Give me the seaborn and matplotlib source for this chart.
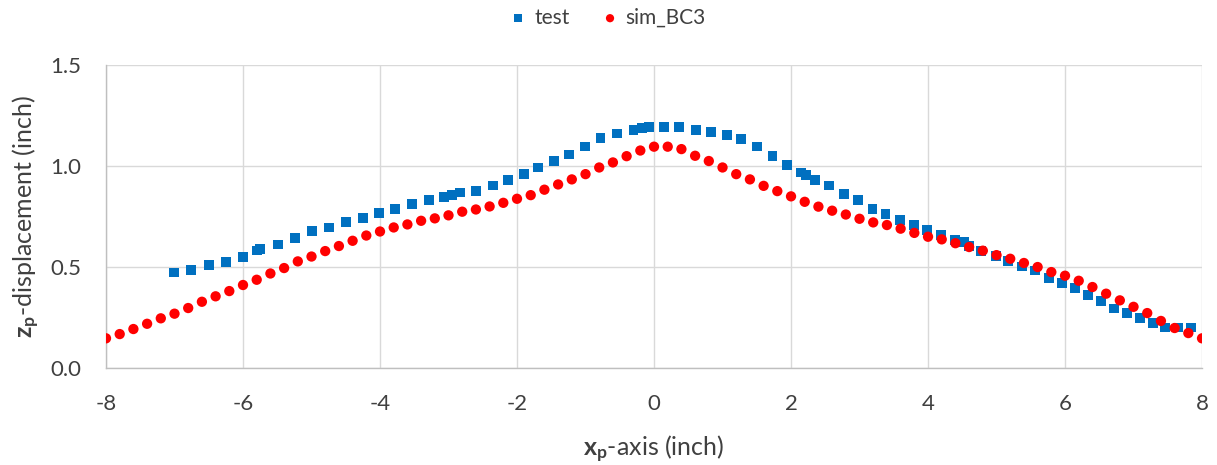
import matplotlib
matplotlib.use("Agg")
import matplotlib.pyplot as plt
import seaborn as sns
import pandas as pd

# ---- data ----
test_x = [-7.01, -6.76, -6.50, -6.25, -6.00, -5.80, -5.75, -5.49, -5.24, -4.99,
          -4.75, -4.50, -4.25, -4.01, -3.78, -3.53, -3.28, -3.06, -2.95, -2.83,
          -2.60, -2.35, -2.13, -1.90, -1.69, -1.46, -1.24, -1.01, -0.78, -0.54,
          -0.30, -0.18, -0.07, 0.15, 0.37, 0.61, 0.83, 1.06, 1.27, 1.50,
          1.73, 1.94, 2.15, 2.22, 2.35, 2.56, 2.77, 2.98, 3.19, 3.38,
          3.59, 3.80, 3.98, 4.19, 4.39, 4.52, 4.60, 4.77, 4.99, 5.17,
          5.37, 5.56, 5.77, 5.96, 6.15, 6.34, 6.53, 6.72, 6.91, 7.09,
          7.29, 7.46, 7.65, 7.84]
test_y = [0.473, 0.485, 0.510, 0.525, 0.549, 0.582, 0.589, 0.612, 0.645, 0.678,
          0.696, 0.723, 0.743, 0.767, 0.786, 0.813, 0.832, 0.845, 0.858, 0.869,
          0.878, 0.904, 0.929, 0.962, 0.993, 1.026, 1.057, 1.097, 1.137, 1.161,
          1.180, 1.188, 1.193, 1.193, 1.193, 1.180, 1.168, 1.155, 1.135, 1.097,
          1.051, 1.006, 0.968, 0.955, 0.929, 0.904, 0.863, 0.832, 0.787, 0.762,
          0.734, 0.710, 0.685, 0.659, 0.635, 0.622, 0.605, 0.581, 0.556, 0.531,
          0.503, 0.483, 0.446, 0.421, 0.396, 0.361, 0.330, 0.295, 0.272, 0.246,
          0.221, 0.201, 0.201, 0.201]

sim_x = [-8.0, -7.8, -7.6, -7.4, -7.2, -7.0, -6.8, -6.6, -6.4, -6.2,
         -6.0, -5.8, -5.6, -5.4, -5.2, -5.0, -4.8, -4.6, -4.4, -4.2,
         -4.0, -3.8, -3.6, -3.4, -3.2, -3.0, -2.8, -2.6, -2.4, -2.2,
         -2.0, -1.8, -1.6, -1.4, -1.2, -1.0, -0.8, -0.6, -0.4, -0.2,
         0.0, 0.2, 0.4, 0.6, 0.8, 1.0, 1.2, 1.4, 1.6, 1.8,
         2.0, 2.2, 2.4, 2.6, 2.8, 3.0, 3.2, 3.4, 3.6, 3.8,
         4.0, 4.2, 4.4, 4.6, 4.8, 5.0, 5.2, 5.4, 5.6, 5.8,
         6.0, 6.2, 6.4, 6.6, 6.8, 7.0, 7.2, 7.4, 7.6, 7.8, 8.0]
sim_y = [0.147, 0.168, 0.193, 0.219, 0.246, 0.269, 0.297, 0.328, 0.355, 0.381,
         0.411, 0.437, 0.468, 0.495, 0.528, 0.552, 0.579, 0.604, 0.630, 0.656,
         0.676, 0.696, 0.711, 0.729, 0.741, 0.756, 0.774, 0.785, 0.800, 0.818,
         0.838, 0.856, 0.883, 0.909, 0.934, 0.960, 0.993, 1.018, 1.049, 1.077,
         1.096, 1.096, 1.084, 1.051, 1.025, 0.993, 0.960, 0.934, 0.902, 0.876,
         0.850, 0.823, 0.799, 0.779, 0.760, 0.739, 0.721, 0.708, 0.690, 0.669,
         0.650, 0.637, 0.618, 0.599, 0.581, 0.559, 0.541, 0.520, 0.500, 0.475,
         0.457, 0.432, 0.401, 0.368, 0.335, 0.303, 0.272, 0.233, 0.198, 0.173, 0.147]

x_ticks = [-8, -6, -4, -2, 0, 2, 4, 6, 8]
y_ticks = [0.0, 0.5, 1.0, 1.5]
y_tick_labels = ["0.0", "0.5", "1.0", "1.5"]

sns.set_theme(style="white")
plt.rcParams['font.family'] = ['Lato', 'DejaVu Sans']
plt.rcParams['mathtext.fontset'] = 'custom'
plt.rcParams['mathtext.rm'] = 'Lato'
plt.rcParams['mathtext.bf'] = 'Lato:bold'
plt.rcParams['mathtext.it'] = 'Lato:italic'

df_test = pd.DataFrame({"x": test_x, "y": test_y})
df_sim = pd.DataFrame({"x": sim_x, "y": sim_y})

fig = plt.figure(figsize=(12.17, 4.65), dpi=100)
ax = fig.add_axes([0.0871, 0.2086, 0.9006, 0.6514])

sns.scatterplot(data=df_test, x="x", y="y", ax=ax, marker="s", s=50,
                color="#0070C0", edgecolor="none", label="test", zorder=3)
sns.scatterplot(data=df_sim, x="x", y="y", ax=ax, marker="o", s=55,
                color="#FF0000", edgecolor="none", label="sim_BC3", zorder=4)

text_color = "#404040"
ax.set_xlim(-8, 8)
ax.set_ylim(0, 1.5)
ax.set_xticks(x_ticks)
ax.set_xticklabels([str(t) for t in x_ticks])
ax.set_yticks(y_ticks)
ax.set_yticklabels(y_tick_labels)
ax.grid(True, color="#D9D9D9", linewidth=1.0)
ax.set_axisbelow(True)
for s in ["top", "right"]:
    ax.spines[s].set_visible(False)
for s in ["left", "bottom"]:
    ax.spines[s].set_color("#BFBFBF")
    ax.spines[s].set_linewidth(1.0)
ax.tick_params(axis="x", length=0, pad=19, labelsize=16, labelcolor=text_color)
ax.tick_params(axis="y", length=0, pad=18, labelsize=16, labelcolor=text_color)

ax.set_xlabel(r"$\mathbf{x_p}$-axis (inch)", fontsize=18, color=text_color, labelpad=14)
ax.set_ylabel(r"$\mathbf{z_p}$-displacement (inch)", fontsize=18, color=text_color, labelpad=6)

ax.get_legend().remove()
handles, labels = ax.get_legend_handles_labels()
fig.legend(handles, labels, loc="center", bbox_to_anchor=(0.5, 0.962), ncol=2,
           frameon=False, fontsize=15, handlelength=0.7, handletextpad=0.4,
           columnspacing=1.6, markerscale=0.8, labelcolor=text_color)

fig.savefig("out.png", dpi=100)
